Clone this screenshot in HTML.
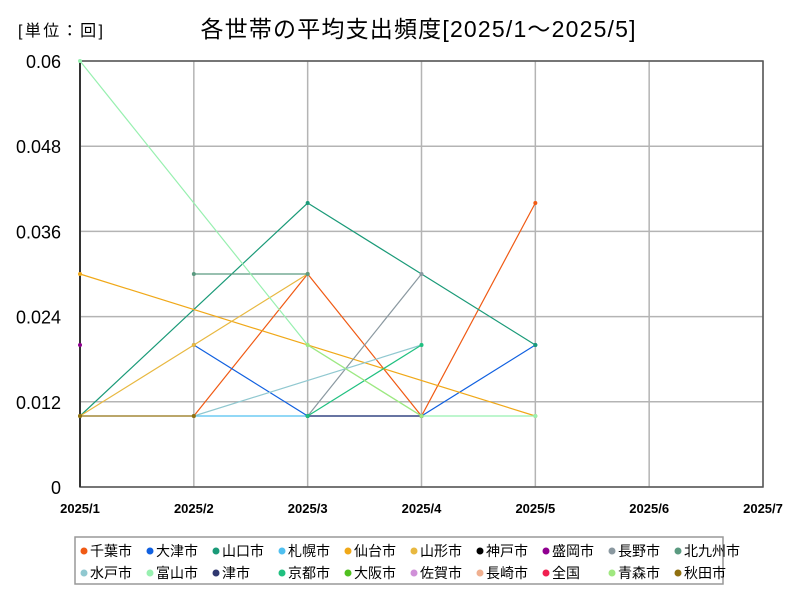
<!DOCTYPE html>
<html><head><meta charset="utf-8"><style>
body{margin:0;background:#fff;font-family:"Liberation Sans","Noto Sans CJK JP",sans-serif}
#wrap{position:relative;width:800px;height:600px}
</style></head><body>
<div id="wrap">
<svg id="svg" width="800" height="600" xmlns="http://www.w3.org/2000/svg"></svg>
</div>
<script>
const categories=["2025/1","2025/2","2025/3","2025/4","2025/5","2025/6","2025/7"];
const yTicks=[0,0.012,0.024,0.036,0.048,0.06];
const yTickLabels=["0","0.012","0.024","0.036","0.048","0.06"];
const seriesNames=["千葉市","大津市","山口市","札幌市","仙台市","山形市","神戸市","盛岡市","長野市","北九州市","水戸市","富山市","津市","京都市","大阪市","佐賀市","長崎市","全国","青森市","秋田市"];
const seriesColors=["#f05a14","#1060e0","#1a9a78","#50c0f0","#f0a818","#e8b840","#000000","#900090","#8a98a0","#5a9a80","#90c8d0","#98f0b0","#303870","#20c080","#50c020","#d090d8","#f0b090","#f02050","#a0e880","#907010"];
const s_chiba=[null,0.01,0.03,0.01,0.04];
const s_otsu=[null,0.02,0.01,0.01,0.02];
const s_yamaguchi=[0.01,null,0.04,null,0.02];
const s_sapporo=[null,0.01,0.01,null,null];
const s_sendai=[0.03,null,null,null,0.01];
const s_yamagata=[0.01,0.02,0.03,null,null];
const s_kobe=[null,null,null,null,null];
const s_morioka=[0.02,null,null,null,null];
const s_nagano=[null,null,0.01,0.03,null];
const s_kitakyushu=[null,0.03,0.03,null,null];
const s_mito=[null,0.01,null,0.02,null];
const s_toyama=[0.06,null,0.02,0.01,0.01];
const s_tsu=[null,null,0.01,0.01,null];
const s_kyoto=[null,null,0.01,0.02,null];
const s_osaka=[null,null,null,null,null];
const s_saga=[null,null,null,null,null];
const s_nagasaki=[null,null,null,null,null];
const s_zenkoku=[null,null,null,null,null];
const s_aomori=[null,null,0.02,0.01,null];
const s_akita=[0.01,0.01,null,null,null];
const seriesValues=[s_chiba,s_otsu,s_yamaguchi,s_sapporo,s_sendai,s_yamagata,s_kobe,s_morioka,s_nagano,s_kitakyushu,s_mito,s_toyama,s_tsu,s_kyoto,s_osaka,s_saga,s_nagasaki,s_zenkoku,s_aomori,s_akita];

const L=80,R=763,T=61,B=487,yMax=0.06;
const xs=i=>L+(R-L)*i/(categories.length-1);
const ys=v=>B-(B-T)*v/yMax;
const svg=document.getElementById('svg');const NS="http://www.w3.org/2000/svg";
function mk(tag,attrs,name,parent){const e=document.createElementNS(NS,tag);for(const k in attrs)e.setAttribute(k,attrs[k]);


(parent||svg).appendChild(e);return e;}
function txt(x,y,s,name,anchor,size){const t=mk('text',{x:x,y:y,'font-size':size||14,'text-anchor':anchor||'start',fill:'#000'},name);t.textContent=s;return t;}
const u=txt(18,36,"[単位：回]","unit-label","start",16);u.setAttribute('textLength','85');
const tt=txt(418,37,"各世帯の平均支出頻度[2025/1～2025/5]","chart-title","middle",23);tt.setAttribute('textLength','435');
const grid=mk('g',{},'gridlines');
yTicks.forEach((v,i)=>{mk('line',{x1:L,x2:R,y1:ys(v),y2:ys(v),stroke:'#b4b4b4','stroke-width':1.5},'y-gridline',grid);
txt(L-19,ys(v)+7,yTickLabels[i],'y-tick-label','end',18);});
categories.forEach((c,i)=>{mk('line',{x1:xs(i),x2:xs(i),y1:T,y2:B,stroke:'#b4b4b4','stroke-width':1.5},'x-gridline',grid);
txt(xs(i),513,c,'x-tick-label','middle',13).setAttribute('font-weight','bold');});
mk('rect',{x:L,y:T,width:R-L,height:B-T,fill:'none',stroke:'#555','stroke-width':1.5},'plot-border');
mk('line',{x1:L,x2:L,y1:T,y2:B,stroke:'#333','stroke-width':2},'y-axis');
seriesValues.forEach((vals,si)=>{const g=mk('g',{},'series-'+seriesNames[si]);
let d='';vals.forEach((v,i)=>{if(v===null)return;d+=(d?'L':'M')+xs(i)+','+ys(v);});
if(d.indexOf('L')>0)mk('path',{d:d,fill:'none',stroke:seriesColors[si],'stroke-width':1.2},'series-line',g);
vals.forEach((v,i)=>{if(v===null)return;mk('circle',{cx:xs(i),cy:ys(v),r:2,fill:seriesColors[si]},'series-point',g);});});
const lg=mk('g',{},'legend');
mk('rect',{x:75,y:537,width:648,height:47,fill:'#fff',stroke:'#999','stroke-width':1.5},'legend-box',lg);
const legX=[81,147,213,279,345,411,477,543,609,675];
seriesNames.forEach((n,i)=>{const row=Math.floor(i/10),col=i%10;const x=legX[col],y=551+row*22;
const e=mk('g',{},'legend-entry',lg);
mk('circle',{cx:x+3,cy:y,r:3.5,fill:seriesColors[i]},'legend-marker',e);
const t=mk('text',{x:x+9,y:y+5,'font-size':14,fill:'#000'},'legend-label',e);t.textContent=n;});
</script>
</body></html>
